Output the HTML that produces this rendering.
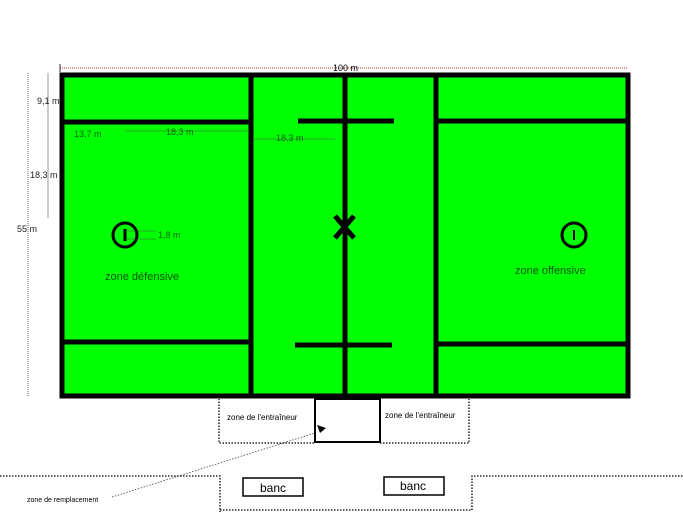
<!DOCTYPE html>
<html><head><style>body{margin:0;background:#fff}svg{display:block}</style></head><body>
<svg width="683" height="512" viewBox="0 0 683 512" xmlns="http://www.w3.org/2000/svg" font-family="Liberation Sans, DejaVu Sans, sans-serif">
<rect x="62" y="75" width="566" height="321" fill="#00ff00" stroke="#000" stroke-width="5"/>
<g stroke="#000" stroke-width="5">
<line x1="251" y1="75" x2="251" y2="396"/>
<line x1="345" y1="75" x2="345" y2="396"/>
<line x1="436" y1="75" x2="436" y2="396"/>
<line x1="62" y1="122" x2="251" y2="122"/>
<line x1="62" y1="342" x2="251" y2="342"/>
<line x1="436" y1="121" x2="628" y2="121"/>
<line x1="436" y1="344" x2="628" y2="344"/>
<line x1="298" y1="121" x2="394" y2="121"/>
<line x1="295" y1="345" x2="392" y2="345"/>
<line x1="335" y1="216" x2="354" y2="238"/>
<line x1="354" y1="216" x2="335" y2="238"/>
</g>
<circle cx="125" cy="235" r="12" fill="none" stroke="#000" stroke-width="3"/>
<line x1="125" y1="229" x2="125" y2="241" stroke="#000" stroke-width="3"/>
<circle cx="574" cy="235" r="12" fill="none" stroke="#000" stroke-width="3"/>
<line x1="574" y1="230" x2="574" y2="240" stroke="#000" stroke-width="2"/>
<g fill="none" stroke="#555" stroke-width="0.6">
<line x1="125" y1="231" x2="156" y2="231"/><line x1="125" y1="239" x2="156" y2="239"/>
<line x1="125" y1="71" x2="125" y2="71"/>
<line x1="48" y1="73" x2="48" y2="218"/>
<line x1="125" y1="131" x2="250" y2="131"/>
<line x1="252" y1="139" x2="335" y2="139"/>
</g>
<g fill="none" stroke="#666" stroke-width="1" stroke-dasharray="1,1">
<line x1="60" y1="68" x2="628" y2="68" stroke="#a33"/>
<line x1="28" y1="73" x2="28" y2="397"/>
</g>
<line x1="60" y1="64" x2="60" y2="72" stroke="#333"/>
<g font-size="9" fill="#222">
<text x="333" y="71" fill="#000">100 m</text>
<text x="37" y="104">9,1 m</text>
<text x="30" y="178">18,3 m</text>
<text x="17" y="232">55 m</text>
<text x="74" y="137" fill="#060">13,7 m</text>
<text x="166" y="135" fill="#060">18,3 m</text>
<text x="276" y="141" fill="#060">18,3 m</text>
<text x="158" y="238" fill="#060">1,8 m</text>
</g>
<text x="105" y="280" font-size="11" fill="#050">zone défensive</text>
<text x="515" y="274" font-size="11" fill="#050">zone offensive</text>
<g fill="none" stroke="#000" stroke-width="1.3" stroke-dasharray="1.5,1.5">
<path d="M314 443 H219 V399 M380 443 H469 V399"/>
<path d="M0 476 H220 V512 M220 510 H472 V476 H683"/>
<path d="M112 497 L318 432" stroke-width="0.8" stroke="#444"/>
</g>
<rect x="315" y="399" width="65" height="43" fill="#fff" stroke="#000" stroke-width="2"/>
<path d="M317 425 L326 428 L320 433 Z" fill="#000"/>
<text x="227" y="420" font-size="8">zone de l'entraîneur</text>
<text x="385" y="418" font-size="8">zone de l'entraîneur</text>
<text x="27" y="502" font-size="7">zone de remplacement</text>
<rect x="243" y="478" width="60" height="18" fill="#fff" stroke="#000" stroke-width="1.5"/>
<rect x="384" y="477" width="60" height="18" fill="#fff" stroke="#000" stroke-width="1.5"/>
<text x="273" y="492" font-size="12" text-anchor="middle">banc</text>
<text x="413" y="490" font-size="12" text-anchor="middle">banc</text>
</svg>
</body></html>
